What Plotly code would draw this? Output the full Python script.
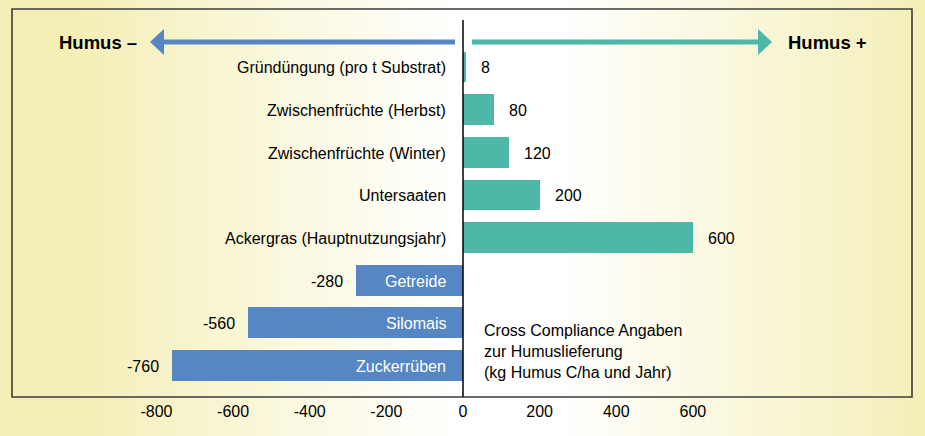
import plotly.graph_objects as go

categories = ["Gründüngung (pro t Substrat)", "Zwischenfrüchte (Herbst)", "Zwischenfrüchte (Winter)",
              "Untersaaten", "Ackergras (Hauptnutzungsjahr)", "Getreide", "Silomais", "Zuckerrüben"]
values = [8, 80, 120, 200, 600, -280, -560, -760]
tick_vals = [-800, -600, -400, -200, 0, 200, 400, 600]
tick_text = ["-800", "-600", "-400", "-200", "0", "200", "400", "600"]
note_lines = ["Cross Compliance Angaben", "zur Humuslieferung", "(kg Humus C/ha und Jahr)"]
left_label = "Humus –"
right_label = "Humus +"

TEAL = "#4DB7A8"
BLUE = "#5686C3"
FONT = "Liberation Sans"

W, H = 925, 436
L, R, T, B = 12, 13, 9, 39
PW, PH = W - L - R, H - T - B

def px_x(px):
    return (px - L) / PW

def px_y(py):
    return (H - B - py) / PH

colors = [TEAL if v >= 0 else BLUE for v in values]

fig = go.Figure()
fig.add_trace(go.Bar(
    y=categories, x=values, orientation="h", marker=dict(color=colors, line=dict(width=0)),
    width=0.72, hoverinfo="skip", showlegend=False,
))

shapes = []
# background gradient (horizontal, white at centre, pale yellow at edges)
edge = (244, 239, 182)
centre = 505
step = 5
for x0 in range(0, W, step):
    xc = x0 + step / 2
    d = abs(xc - centre)
    t = min(max((d - 50) / 380, 0), 1)
    col = tuple(round(255 + (e - 255) * t) for e in edge)
    shapes.append(dict(type="rect", xref="paper", yref="paper", layer="below",
                       x0=px_x(x0), x1=px_x(x0 + step + 0.5), y0=px_y(H), y1=px_y(0),
                       line=dict(width=0), fillcolor="rgb(%d,%d,%d)" % col))
# box border
shapes.append(dict(type="rect", xref="paper", yref="paper", x0=0, x1=1, y0=0, y1=1,
                   line=dict(color="#3c3c3c", width=1.6), layer="above"))
# zero line
shapes.append(dict(type="line", xref="x", yref="paper", x0=0, x1=0, y0=0, y1=px_y(20),
                   line=dict(color="black", width=1.5), layer="above"))
# arrows
ay = px_y(42)
hh = 13 / PH
shapes.append(dict(type="line", xref="paper", yref="paper", x0=px_x(162), x1=px_x(455), y0=ay, y1=ay,
                   line=dict(color=BLUE, width=5)))
shapes.append(dict(type="path", xref="paper", yref="paper",
                   path="M %f %f L %f %f L %f %f Z" % (px_x(150), ay, px_x(164), ay + hh, px_x(164), ay - hh),
                   fillcolor=BLUE, line=dict(width=0)))
shapes.append(dict(type="line", xref="paper", yref="paper", x0=px_x(472), x1=px_x(760), y0=ay, y1=ay,
                   line=dict(color=TEAL, width=5)))
shapes.append(dict(type="path", xref="paper", yref="paper",
                   path="M %f %f L %f %f L %f %f Z" % (px_x(772), ay, px_x(758), ay + hh, px_x(758), ay - hh),
                   fillcolor=TEAL, line=dict(width=0)))

annotations = []
for c, v in zip(categories, values):
    annotations.append(dict(x=0, y=c, xref="x", yref="y", text=c, showarrow=False,
                            xanchor="right", xshift=-15, yshift=-1, font=dict(family=FONT, size=16,
                            color="black" if v >= 0 else "white")))
    if v >= 0:
        annotations.append(dict(x=v, y=c, xref="x", yref="y", text=str(v), showarrow=False,
                                xanchor="left", xshift=13, yshift=-1, font=dict(family=FONT, size=16, color="black")))
    else:
        annotations.append(dict(x=v, y=c, xref="x", yref="y", text=str(v), showarrow=False,
                                xanchor="right", xshift=-11, yshift=-1, font=dict(family=FONT, size=16, color="black")))

annotations.append(dict(x=px_x(482), y=px_y(351), xref="paper", yref="paper", text="<br>".join(note_lines),
                        showarrow=False, xanchor="left", yanchor="middle", align="left",
                        font=dict(family=FONT, size=16, color="black")))
annotations.append(dict(x=px_x(57), y=ay, xref="paper", yref="paper", text="<b>%s</b>" % left_label,
                        showarrow=False, xanchor="left", yanchor="middle",
                        font=dict(family=FONT, size=18.5, color="black")))
annotations.append(dict(x=px_x(786), y=ay, xref="paper", yref="paper", text="<b>%s</b>" % right_label,
                        showarrow=False, xanchor="left", yanchor="middle",
                        font=dict(family=FONT, size=18.5, color="black")))

scale = 0.3832
fig.update_layout(
    width=W, height=H,
    margin=dict(l=L, r=R, t=T, b=B, pad=0),
    paper_bgcolor="rgb(%d,%d,%d)" % edge,
    plot_bgcolor="rgba(0,0,0,0)",
    bargap=0,
    shapes=shapes,
    annotations=annotations,
    xaxis=dict(range=[-451 / scale, (PW - 451) / scale], tickvals=tick_vals, ticktext=tick_text,
               showgrid=False, zeroline=False, showline=False, ticks="", ticklabelstandoff=3,
               tickfont=dict(family=FONT, size=16, color="black"), fixedrange=True),
    yaxis=dict(categoryorder="array", categoryarray=categories, range=[7.74, -1.36],
               showticklabels=False, showgrid=False, zeroline=False, showline=False, ticks="",
               fixedrange=True),
)

fig.write_html("out.html", config={"displayModeBar": False},
               post_script="document.body.style.margin='0';document.body.style.overflow='hidden';")
